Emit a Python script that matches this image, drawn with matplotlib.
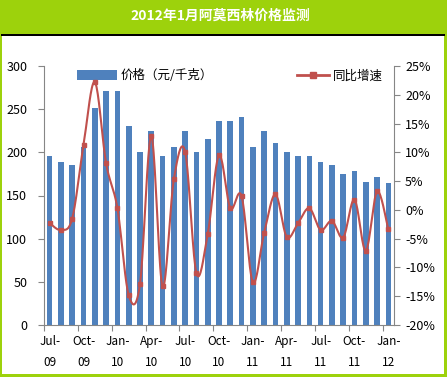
import numpy as np
import matplotlib
matplotlib.use("Agg")
import matplotlib.pyplot as plt
from matplotlib.patches import Rectangle, Patch
from matplotlib.lines import Line2D

plt.rcParams['font.family'] = ['Noto Sans CJK SC', 'DejaVu Sans']

# data: Jul-09 .. Jan-12, monthly
months = ['Jul-09', 'Aug-09', 'Sep-09', 'Oct-09', 'Nov-09', 'Dec-09',
          'Jan-10', 'Feb-10', 'Mar-10', 'Apr-10', 'May-10', 'Jun-10',
          'Jul-10', 'Aug-10', 'Sep-10', 'Oct-10', 'Nov-10', 'Dec-10',
          'Jan-11', 'Feb-11', 'Mar-11', 'Apr-11', 'May-11', 'Jun-11',
          'Jul-11', 'Aug-11', 'Sep-11', 'Oct-11', 'Nov-11', 'Dec-11',
          'Jan-12']
price = [196, 189, 185, 206, 251, 271, 271, 230, 200, 225, 196, 206,
         225, 200, 215, 236, 236, 241, 206, 225, 211, 200, 196, 196,
         189, 185, 175, 178, 166, 171, 164]
growth = [-2.3, -3.5, -1.5, 11.3, 22.2, 8.1, 0.3, -14.8, -12.9, 12.8,
          -13.3, 5.3, 10.1, -11.0, -4.2, 9.5, 0.3, 2.4, -12.6, -4.0,
          2.7, -4.7, -2.3, 0.3, -3.5, -1.9, -4.8, 1.8, -7.1, 3.2, -3.4]
tick_labels = ['Jul-\n09', 'Oct-\n09', 'Jan-\n10', 'Apr-\n10', 'Jul-\n10', 'Oct-\n10',
               'Jan-\n11', 'Apr-\n11', 'Jul-\n11', 'Oct-\n11', 'Jan-\n12']

GREEN = '#9DD20C'
BLUE = '#4F81BD'
RED = '#C0504D'
GRAY = '#868686'


def smooth(xs, ys, n=20):
    # Excel-style smoothed line: cubic bezier through each point
    xs = np.asarray(xs, float)
    ys = np.asarray(ys, float)
    px = np.concatenate([[xs[0]], xs, [xs[-1]]])
    py = np.concatenate([[ys[0]], ys, [ys[-1]]])
    t = np.linspace(0, 1, n)[:, None]
    out_x, out_y = [], []
    for i in range(1, len(px) - 2):
        p0 = np.array([px[i], py[i]])
        p3 = np.array([px[i + 1], py[i + 1]])
        c1 = p0 + (p3 - np.array([px[i - 1], py[i - 1]])) / 6
        c2 = p3 - (np.array([px[i + 2], py[i + 2]]) - p0) / 6
        seg = ((1 - t) ** 3) * p0 + 3 * ((1 - t) ** 2) * t * c1 + 3 * (1 - t) * t ** 2 * c2 + t ** 3 * p3
        out_x.extend(seg[:, 0])
        out_y.extend(seg[:, 1])
    return out_x, out_y


W, H = 447, 377
fig = plt.figure(figsize=(W / 100, H / 100), dpi=100)
fig.patch.set_facecolor(GREEN)

# white body and the black rule under the title bar
fig.patches.append(Rectangle((2 / W, 3 / H), (W - 5) / W, (H - 38) / H,
                             transform=fig.transFigure, facecolor='white',
                             edgecolor='none', zorder=-10))
fig.patches.append(Rectangle((1 / W, (H - 36) / H), (W - 3) / W, 1.6 / H,
                             transform=fig.transFigure, facecolor='black',
                             edgecolor='none', zorder=-9))
fig.text(220 / W, 1 - 16 / H, '2012年1月阿莫西林价格监测', color='white',
         fontsize=10, fontweight='bold', ha='center', va='center')

ax = fig.add_axes([44 / W, 1 - 325 / H, 350 / W, 259 / H])
ax.set_facecolor('none')
x = np.arange(len(months))
ax.bar(x, price, width=0.5, color=BLUE, zorder=2)
ax.set_xlim(-0.5, len(months) - 0.5)
ax.set_ylim(0, 300)
ax.set_yticks(range(0, 301, 50))

ax.set_xticks(np.arange(-0.5, len(months) - 0.5, 3))
ax.set_xticklabels([])
ax.set_xticks(np.arange(0, len(months), 3), minor=True)
ax.set_xticklabels(tick_labels, minor=True, fontsize=8.5, linespacing=1.8)
ax.tick_params(axis='x', which='minor', length=0, pad=7)
ax.tick_params(axis='x', which='major', length=4, color=GRAY)
ax.tick_params(axis='y', length=4, color=GRAY, labelsize=9, pad=8)

for s in ['top', 'right']:
    ax.spines[s].set_visible(False)
for s in ['left', 'bottom']:
    ax.spines[s].set_color(GRAY)

ax2 = ax.twinx()
sx, sy = smooth(x, growth)
ax2.plot(sx, sy, color=RED, lw=1.5, zorder=3)
ax2.plot(x, growth, ls='none', marker='s', ms=3.5, color=RED, zorder=4)
ax2.set_ylim(-20, 25)
ax2.set_yticks(range(-20, 26, 5))
ax2.set_yticklabels([f'{v}%' for v in range(-20, 26, 5)])
ax2.tick_params(axis='y', length=4, color=GRAY, labelsize=9, pad=4)
for s in ['top', 'left', 'bottom']:
    ax2.spines[s].set_visible(False)
ax2.spines['right'].set_color(GRAY)

ax.legend(handles=[Patch(facecolor=BLUE, label='价格（元/千克）')],
          loc='upper left', bbox_to_anchor=(22 / 350, 1.03), frameon=False,
          fontsize=9, handlelength=3.2, handleheight=0.8, handletextpad=0.3)
ax2.legend(handles=[Line2D([0], [0], color=RED, lw=2, marker='s', ms=4,
                           label='同比增速')],
           loc='upper right', bbox_to_anchor=(1.0, 1.03), frameon=False,
           fontsize=9, handlelength=2.6, handletextpad=0.3)

fig.savefig('out.png', dpi=100, facecolor=fig.get_facecolor())
